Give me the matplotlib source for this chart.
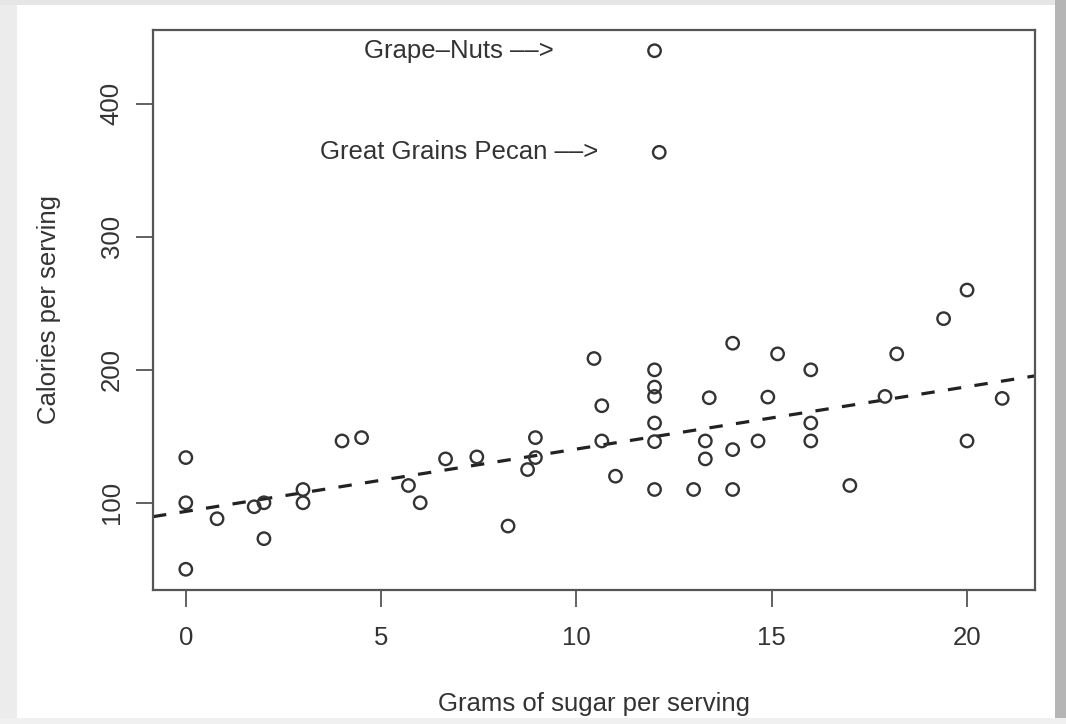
import matplotlib
matplotlib.use("Agg")
import matplotlib.pyplot as plt
from matplotlib.patches import Rectangle

# Data (grams of sugar vs calories per serving)
sugar = [0, 0, 0, 0.8, 1.75, 2, 2, 3, 3, 4, 4.5, 5.7, 6, 6.65, 7.45,
         8.95, 8.95, 8.75, 8.25, 10.45, 10.65, 10.65, 11, 12, 12, 12, 12, 12, 12,
         13, 13.4, 13.3, 13.3, 14, 14, 14, 15.15, 16, 14.9, 16, 16, 14.65,
         17, 17.9, 18.2, 19.4, 20, 20.9, 20, 12, 12.12]
calories = [50, 100, 134, 88, 97, 100, 73, 110, 100, 146.5, 149, 113, 100, 133, 134.5,
            149, 134, 125, 82.5, 208.5, 173, 146.5, 120, 200, 187, 180, 160, 146, 110,
            110, 179, 146.5, 133, 220, 140, 110, 212, 200, 179.5, 160, 146.5, 146.5,
            113, 180, 212, 238.5, 260, 178.5, 146.5, 440, 363.6]

# Least-squares line
fit_intercept = 93.5
fit_slope = 4.69

labels = ["Grape\u2013Nuts \u2013\u2013>", "Great Grains Pecan \u2013\u2013>"]
label_x = [7, 7]
label_y = [440, 363.6]

x_ticks = [0, 5, 10, 15, 20]
y_ticks = [100, 200, 300, 400]

plt.rcParams['font.family'] = ['Liberation Sans', 'DejaVu Sans']
FS = 18.5

fig = plt.figure(figsize=(10.66, 7.24), dpi=100)
fig.patch.set_facecolor('white')
# page-like border shading
fig.add_artist(Rectangle((0, 0), 17/1066, 1, transform=fig.transFigure,
                         facecolor='#ececec', edgecolor='none', zorder=-5))
fig.add_artist(Rectangle((0, 1 - 5/724), 1, 5/724, transform=fig.transFigure,
                         facecolor='#e6e6e6', edgecolor='none', zorder=-5))
fig.add_artist(Rectangle((1055/1066, 0), 11/1066, 1, transform=fig.transFigure,
                         facecolor='#b5b5b5', edgecolor='none', zorder=-5))
fig.add_artist(Rectangle((0, 0), 1, 6/724, transform=fig.transFigure,
                         facecolor='#f0f0f0', edgecolor='none', zorder=-5))

ax = fig.add_axes([153/1066, 1 - 590/724, (1035 - 153)/1066, (590 - 30)/724])
ink = '#333333'

ax.scatter(sugar, calories, s=80, facecolors='none', edgecolors=ink, linewidths=1.7, zorder=3)
ax.axline((0, fit_intercept), slope=fit_slope, color='#222222', lw=2.3,
          linestyle=(0, (4.2, 4.2)), zorder=2)

for t, xv, yv in zip(labels, label_x, label_y):
    ax.text(xv, yv, t, ha='center', va='center', fontsize=FS, color='#333333')

ax.set_xlim(-0.84, 21.74)
ax.set_ylim(34.4, 455.6)
ax.set_xticks(x_ticks)
ax.set_yticks(y_ticks)
ax.set_yticklabels([str(v) for v in y_ticks], rotation=90, va='center')
ax.tick_params(axis='both', direction='out', length=12, width=1.3, colors='#555555',
               labelcolor='#333333', labelsize=FS)
ax.tick_params(axis='x', pad=14)
ax.tick_params(axis='y', pad=9)
for sp in ax.spines.values():
    sp.set_color('#555555')
    sp.set_linewidth(1.6)

ax.set_xlabel('Grams of sugar per serving', fontsize=FS, color='#333333', labelpad=30)
ax.set_ylabel('Calories per serving', fontsize=FS, color='#333333', labelpad=28)

fig.savefig('out.png', dpi=100, facecolor=fig.get_facecolor())
